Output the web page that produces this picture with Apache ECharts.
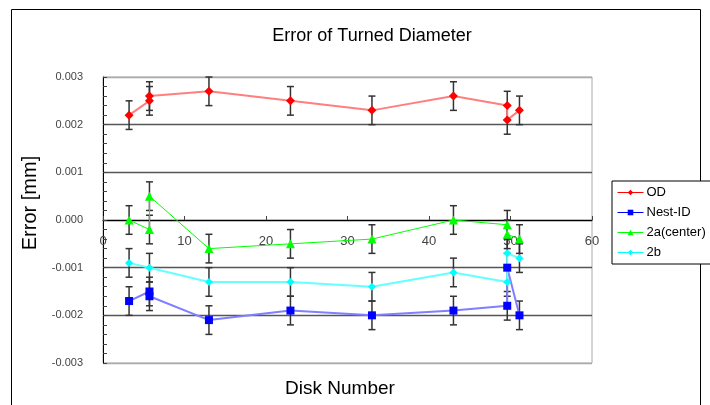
<!DOCTYPE html>
<html>
<head>
<meta charset="utf-8">
<script src="https://cdn.jsdelivr.net/npm/echarts@6/dist/echarts.min.js"></script>
<style>
  html, body { margin: 0; padding: 0; background: #fff; }
  #chart { width: 710px; height: 405px; }
</style>
</head>
<body>
<div id="chart"></div>
<script>
// 数据：横轴为盘号，纵轴为误差 (mm)
const seriesNames = ['OD', 'Nest-ID', '2a(center)', '2b'];

const odX = [3.2, 5.7, 5.7, 13, 23, 33, 43, 49.6, 49.6, 51.1];
const odY = [0.0022, 0.0025, 0.0026, 0.0027, 0.0025, 0.0023, 0.0026, 0.0024, 0.0021, 0.0023];
const odErr = [0.0003, 0.0003, 0.0003, 0.0003, 0.0003, 0.0003, 0.0003, 0.0003, 0.0003, 0.0003];

const nestX = [3.2, 5.7, 5.7, 13, 23, 33, 43, 49.6, 49.6, 51.1];
const nestY = [-0.0017, -0.0015, -0.0016, -0.0021, -0.0019, -0.0020, -0.0019, -0.0018, -0.0010, -0.0020];
const nestErr = [0.0003, 0.0003, 0.0003, 0.0003, 0.0003, 0.0003, 0.0003, 0.0003, 0.0003, 0.0003];

const centerX = [3.2, 5.7, 5.7, 13, 23, 33, 43, 49.6, 49.6, 51.1];
const centerY = [0.0000, -0.0002, 0.0005, -0.0006, -0.0005, -0.0004, 0.0000, -0.0001, -0.0003, -0.0004];
const centerErr = [0.0003, 0.0003, 0.0003, 0.0003, 0.0003, 0.0003, 0.0003, 0.0003, 0.0003, 0.0003];

const bX = [3.2, 5.7, 13, 23, 33, 43, 49.6, 49.6, 51.1];
const bY = [-0.0009, -0.0010, -0.0013, -0.0013, -0.0014, -0.0011, -0.0013, -0.0007, -0.0008];
const bErr = [0.0003, 0.0003, 0.0003, 0.0003, 0.0003, 0.0003, 0.0003, 0.0003, 0.0003];

const yTicks = [-0.003, -0.002, -0.001, 0, 0.001, 0.002, 0.003];

const FONT = 'Liberation Sans';

const chart = echarts.init(document.getElementById('chart'));

// 组合成点对
function pairs(xs, ys) {
  return xs.map((x, i) => [x, ys[i]]);
}

function errData(xs, ys, es) {
  return xs.map((x, i) => [x, ys[i] - es[i], ys[i] + es[i]]);
}

// 误差棒
function renderErr(params, api) {
  const x = api.value(0);
  const lo = api.coord([x, api.value(1)]);
  const hi = api.coord([x, api.value(2)]);
  const cap = 3.5;
  const style = { stroke: '#333', lineWidth: 1.5 };
  return {
    type: 'group',
    children: [
      { type: 'line', shape: { x1: hi[0], y1: hi[1], x2: lo[0], y2: lo[1] }, style },
      { type: 'line', shape: { x1: hi[0] - cap, y1: hi[1], x2: hi[0] + cap, y2: hi[1] }, style },
      { type: 'line', shape: { x1: lo[0] - cap, y1: lo[1], x2: lo[0] + cap, y2: lo[1] }, style }
    ]
  };
}

function errSeries(xs, ys, es) {
  return {
    type: 'custom',
    renderItem: renderErr,
    data: errData(xs, ys, es),
    encode: { x: 0, y: [1, 2] },
    z: 2,
    silent: true
  };
}

function lineSeries(name, xs, ys, symbol, size, markColor, lineColor, lineWidth) {
  return {
    name,
    type: 'line',
    data: pairs(xs, ys),
    symbol,
    symbolSize: size,
    itemStyle: { color: markColor },
    lineStyle: { color: lineColor, width: lineWidth },
    z: 3,
    animation: false
  };
}

const splitColors = yTicks.map(v => (Math.abs(v) > 0.0025 ? '#aaa' : (v === 0 ? '#000' : '#555')));

// 网格上下边界，x 轴画在 0 处
const gridTop = 77;
const gridBottom = 42;
const plotH = 405 - gridTop - gridBottom;

chart.setOption({
  animation: false,
  backgroundColor: '#fff',
  title: {
    text: 'Error of Turned Diameter',
    left: 367,
    top: 22,
    textAlign: 'center',
    textStyle: { fontFamily: FONT, fontSize: 18, fontWeight: 'normal', color: '#000' }
  },
  graphic: [
    {
      type: 'rect',
      shape: { x: 11.5, y: 9.5, width: 689, height: 420 },
      style: { fill: null, stroke: '#000', lineWidth: 1 },
      silent: true
    },
    {
      type: 'text',
      x: 340,
      y: 389,
      style: {
        text: 'Disk Number',
        font: '19px "Liberation Sans"',
        fill: '#000',
        align: 'center',
        verticalAlign: 'middle'
      },
      silent: true
    },
    {
      type: 'text',
      x: 30,
      y: 203,
      rotation: Math.PI / 2,
      style: {
        text: 'Error [mm]',
        font: '20px "Liberation Sans"',
        fill: '#000',
        align: 'center',
        verticalAlign: 'middle'
      },
      silent: true
    }
  ],
  legend: {
    left: 612,
    top: 181,
    orient: 'vertical',
    itemWidth: 26,
    itemHeight: 7,
    itemGap: 7,
    padding: [5, 40, 5, 5],
    borderColor: '#000',
    borderWidth: 1,
    backgroundColor: '#fff',
    textStyle: { fontFamily: FONT, fontSize: 13, color: '#000', padding: [0, 0, 0, -2] },
    data: [
      { name: 'OD', lineStyle: { color: '#f00', width: 1 } },
      { name: 'Nest-ID', lineStyle: { color: '#00f', width: 1 } },
      { name: '2a(center)', lineStyle: { color: '#0f0', width: 1 } },
      { name: '2b', lineStyle: { color: '#0ff', width: 1 } }
    ]
  },
  grid: {
    left: 103,
    right: 118,
    top: gridTop,
    bottom: gridBottom,
    show: true,
    borderColor: '#aaa',
    borderWidth: 1,
    outerBoundsMode: 'none'
  },
  xAxis: {
    type: 'value',
    min: 0,
    max: 60,
    interval: 10,
    offset: -plotH / 2,
    axisLine: { onZero: false, lineStyle: { color: '#000', width: 1 } },
    axisTick: { inside: true, length: 4, lineStyle: { color: '#444' } },
    axisLabel: { fontFamily: FONT, fontSize: 13, color: '#444', margin: 15 },
    splitLine: { show: false }
  },
  yAxis: {
    type: 'value',
    min: -0.003,
    max: 0.003,
    interval: 0.001,
    axisLine: { show: true, onZero: false, lineStyle: { color: '#000', width: 1 } },
    axisTick: { inside: true, length: 4, lineStyle: { color: '#444' } },
    minorTick: { show: true, splitNumber: 5, length: 4, lineStyle: { color: '#444' } },
    axisLabel: {
      fontFamily: FONT,
      fontSize: 11,
      color: '#444',
      margin: 20,
      formatter: v => v.toFixed(3)
    },
    splitLine: { show: true, lineStyle: { color: splitColors, width: 1.3 } }
  },
  series: [
    lineSeries(seriesNames[0], odX, odY, 'diamond', 9, '#f00', '#ff7f7f', 2),
    lineSeries(seriesNames[1], nestX, nestY, 'rect', 8, '#00f', '#7f7fff', 2),
    lineSeries(seriesNames[2], centerX, centerY, 'triangle', 9, '#0f0', '#0f0', 1),
    lineSeries(seriesNames[3], bX, bY, 'diamond', 8, '#0ff', '#66ffff', 2),
    errSeries(odX, odY, odErr),
    errSeries(nestX, nestY, nestErr),
    errSeries(centerX, centerY, centerErr),
    errSeries(bX, bY, bErr)
  ]
});
</script>
</body>
</html>
